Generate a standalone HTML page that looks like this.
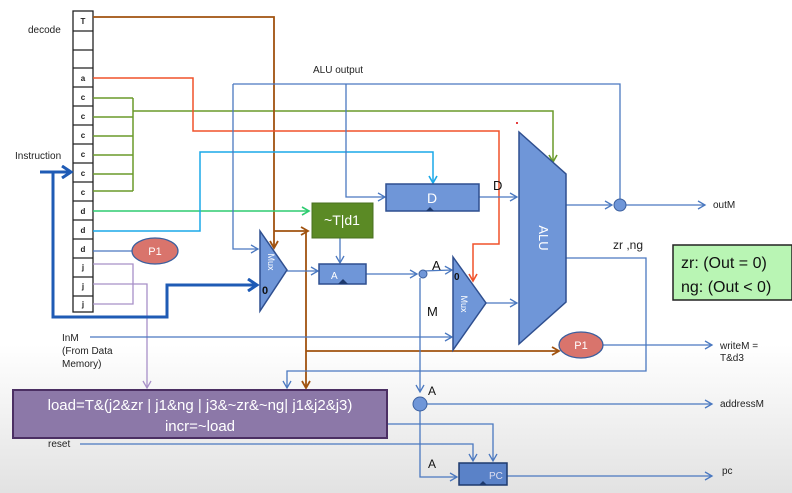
<!DOCTYPE html>
<html><head><meta charset="utf-8"><style>
html,body{margin:0;padding:0;}
body{width:792px;height:493px;overflow:hidden;background:linear-gradient(#ffffff 0%,#ffffff 70%,#e2e2e2 100%);font-family:"Liberation Sans",sans-serif;}
svg{display:block}
</style></head><body>
<svg width="792" height="493" viewBox="0 0 792 493" xmlns="http://www.w3.org/2000/svg" font-family="Liberation Sans, sans-serif">
<defs>
<marker id="ab" markerWidth="10" markerHeight="10" refX="8" refY="5" orient="auto" markerUnits="userSpaceOnUse"><path d="M1,1 L8,5 L1,9" fill="none" stroke="#4a78c0" stroke-width="1.3"/></marker>
<marker id="abr" markerWidth="10" markerHeight="10" refX="8" refY="5" orient="auto" markerUnits="userSpaceOnUse"><path d="M1,1 L8,5 L1,9" fill="none" stroke="#a0520f" stroke-width="1.8"/></marker>
<marker id="ared" markerWidth="10" markerHeight="10" refX="8" refY="5" orient="auto" markerUnits="userSpaceOnUse"><path d="M1,1 L8,5 L1,9" fill="none" stroke="#f0522a" stroke-width="1.6"/></marker>
<marker id="agr" markerWidth="10" markerHeight="10" refX="8" refY="5" orient="auto" markerUnits="userSpaceOnUse"><path d="M1,1 L8,5 L1,9" fill="none" stroke="#6a9a2a" stroke-width="1.6"/></marker>
<marker id="alg" markerWidth="10" markerHeight="10" refX="8" refY="5" orient="auto" markerUnits="userSpaceOnUse"><path d="M1,1 L8,5 L1,9" fill="none" stroke="#2ecc71" stroke-width="1.6"/></marker>
<marker id="acy" markerWidth="10" markerHeight="10" refX="8" refY="5" orient="auto" markerUnits="userSpaceOnUse"><path d="M1,1 L8,5 L1,9" fill="none" stroke="#1aa8e8" stroke-width="1.6"/></marker>
<marker id="apu" markerWidth="10" markerHeight="10" refX="8" refY="5" orient="auto" markerUnits="userSpaceOnUse"><path d="M1,1 L8,5 L1,9" fill="none" stroke="#a890c8" stroke-width="1.3"/></marker>
<marker id="athick" markerWidth="14" markerHeight="14" refX="11" refY="7" orient="auto" markerUnits="userSpaceOnUse"><path d="M2,1 L11,7 L2,13" fill="none" stroke="#1f5bb5" stroke-width="3"/></marker>
</defs>

<!-- decode column -->
<g fill="#fff" stroke="#222" stroke-width="1.3">
<rect x="73" y="11" width="20" height="301"/>
</g>
<g stroke="#222" stroke-width="1.3">
<line x1="73" y1="31" x2="93" y2="31"/><line x1="73" y1="50" x2="93" y2="50"/><line x1="73" y1="68" x2="93" y2="68"/>
<line x1="73" y1="87" x2="93" y2="87"/><line x1="73" y1="106" x2="93" y2="106"/><line x1="73" y1="125" x2="93" y2="125"/>
<line x1="73" y1="144" x2="93" y2="144"/><line x1="73" y1="163" x2="93" y2="163"/><line x1="73" y1="182" x2="93" y2="182"/>
<line x1="73" y1="201" x2="93" y2="201"/><line x1="73" y1="220" x2="93" y2="220"/><line x1="73" y1="239" x2="93" y2="239"/>
<line x1="73" y1="258" x2="93" y2="258"/><line x1="73" y1="277" x2="93" y2="277"/><line x1="73" y1="296" x2="93" y2="296"/>
</g>
<g font-size="8" font-weight="bold" text-anchor="middle" fill="#222">
<text x="83" y="24">T</text><text x="83" y="81">a</text>
<text x="83" y="100">c</text><text x="83" y="119">c</text><text x="83" y="138">c</text><text x="83" y="157">c</text><text x="83" y="176">c</text><text x="83" y="195">c</text>
<text x="83" y="214">d</text><text x="83" y="233">d</text><text x="83" y="252">d</text>
<text x="83" y="270">j</text><text x="83" y="289">j</text><text x="83" y="307">j</text>
</g>
<g font-size="10" fill="#222">
<text x="28" y="33">decode</text>
<text x="15" y="159">Instruction</text>
<text x="313" y="73">ALU output</text>
<text x="62" y="341">InM</text><text x="62" y="354">(From Data</text><text x="62" y="367">Memory)</text>
<text x="48" y="447">reset</text>
<text x="713" y="208">outM</text>
<text x="720" y="349">writeM =</text><text x="720" y="361">T&amp;d3</text>
<text x="720" y="407">addressM</text>
<text x="722" y="474">pc</text>
</g>
<text x="613" y="249" font-size="12" fill="#222">zr ,ng</text>

<!-- green c lines -->
<g fill="none" stroke="#6a9a2a" stroke-width="1.5">
<path d="M93,98H133M93,117H133M93,136H133M93,155H133M93,174H133M93,191H133M133,98V191"/>
<path d="M133,111H553V162" marker-end="url(#agr)"/>
</g>
<!-- T brown -->
<g fill="none" stroke="#a0520f" stroke-width="1.8">
<path d="M93,17H274V248" marker-end="url(#abr)"/>
<path d="M274,231H308" marker-end="url(#abr)"/>
<path d="M306,231V388" marker-end="url(#abr)"/>
<path d="M306,351H559" marker-end="url(#abr)"/>
</g>
<!-- a red -->
<path d="M93,78H193V131H499V244H473V281" fill="none" stroke="#f0522a" stroke-width="1.5" marker-end="url(#ared)"/>
<!-- d lines -->
<path d="M93,211H309" fill="none" stroke="#2ecc71" stroke-width="1.5" marker-end="url(#alg)"/>
<path d="M93,231H200V152H433V183" fill="none" stroke="#1aa8e8" stroke-width="1.5" marker-end="url(#acy)"/>
<path d="M93,251H133" stroke="#4a78c0" stroke-width="1.3"/>
<!-- j purple -->
<g fill="none" stroke="#a890c8" stroke-width="1.3">
<path d="M93,264H133V304H93"/>
<path d="M93,284H147V388" marker-end="url(#apu)"/>
</g>
<!-- Instruction thick -->
<g fill="none" stroke="#1f5bb5" stroke-width="3">
<path d="M40,172H71" marker-end="url(#athick)"/>
<path d="M53,172V317H167V285H257" marker-end="url(#athick)"/>
</g>

<!-- blue wires -->
<g fill="none" stroke="#4a78c0" stroke-width="1.3">
<path d="M233,84H620V199"/>
<path d="M233,84V249H258" marker-end="url(#ab)"/>
<path d="M346,84V197H385" marker-end="url(#ab)"/>
<path d="M287,271H318" marker-end="url(#ab)"/>
<path d="M340,238V263" marker-end="url(#ab)"/>
<path d="M366,274H417" marker-end="url(#ab)"/>
<path d="M423,271L452,270" marker-end="url(#ab)"/>
<path d="M420,278V392" marker-end="url(#ab)"/>
<path d="M420,411V477H457" marker-end="url(#ab)"/>
<path d="M90,337H452" marker-end="url(#ab)"/>
<path d="M479,197H517" marker-end="url(#ab)"/>
<path d="M486,303H517" marker-end="url(#ab)"/>
<path d="M566,205H612" marker-end="url(#ab)"/>
<path d="M626,205H705" marker-end="url(#ab)"/>
<path d="M566,258H646V371H287V388" marker-end="url(#ab)"/>
<path d="M602,345H712" marker-end="url(#ab)"/>
<path d="M427,404H712" marker-end="url(#ab)"/>
<path d="M387,424H493V461" marker-end="url(#ab)"/>
<path d="M80,444H473V461" marker-end="url(#ab)"/>
<path d="M507,476H712" marker-end="url(#ab)"/>
</g>

<!-- P1 ellipses -->
<ellipse cx="155" cy="251" rx="23" ry="13" fill="#d9746c" stroke="#3b5f9e" stroke-width="1.3"/>
<text x="155" y="255" font-size="11" fill="#fff" text-anchor="middle">P1</text>
<ellipse cx="581" cy="345" rx="22" ry="13" fill="#d9746c" stroke="#3b5f9e" stroke-width="1.3"/>
<text x="581" y="349" font-size="11" fill="#fff" text-anchor="middle">P1</text>

<!-- ~T|d1 -->
<rect x="312" y="203" width="61" height="35" fill="#5b8a25" stroke="#4a7020"/>
<text x="342" y="225" font-size="14" fill="#fff" text-anchor="middle">~T|d1</text>

<!-- Mux1 -->
<polygon points="260,231 287,270 260,311" fill="#6f96d8" stroke="#2f4f8f" stroke-width="1.5"/>
<text transform="translate(268,262) rotate(90)" font-size="9" fill="#fff" text-anchor="middle">Mux</text>
<text x="262" y="294" font-size="11" font-weight="bold" fill="#111">0</text>
<!-- A reg -->
<rect x="319" y="264" width="47" height="20" fill="#6f96d8" stroke="#2f4f8f" stroke-width="1.5"/>
<text x="331" y="279" font-size="10" fill="#fff">A</text>
<polygon points="338,284 343,279 348,284" fill="#1e3a6e"/>
<!-- D reg -->
<rect x="386" y="184" width="93" height="27" fill="#6f96d8" stroke="#2f4f8f" stroke-width="1.5"/>
<text x="432" y="203" font-size="14" fill="#fff" text-anchor="middle">D</text>
<polygon points="426,211 430,207 434,211" fill="#1e3a6e"/>
<text x="493" y="190" font-size="13" fill="#111">D</text>
<!-- junction A -->
<circle cx="423" cy="274" r="4" fill="#6f96d8" stroke="#3b5f9e"/>
<text x="432" y="270" font-size="13" fill="#111">A</text>
<text x="427" y="316" font-size="13" fill="#111">M</text>
<!-- Mux2 -->
<polygon points="453,257 486,303 453,350" fill="#6f96d8" stroke="#2f4f8f" stroke-width="1.5"/>
<text transform="translate(461,304) rotate(90)" font-size="9" fill="#fff" text-anchor="middle">Mux</text>
<text x="454" y="280" font-size="10" font-weight="bold" fill="#111">0</text>
<!-- ALU -->
<polygon points="519,132 566,174 566,302 519,344" fill="#6f96d8" stroke="#2f4f8f" stroke-width="1.5"/>
<text transform="translate(539,238) rotate(90)" font-size="13" fill="#fff" text-anchor="middle">ALU</text>
<circle cx="517" cy="123" r="1" fill="#d00"/>
<!-- outM junction -->
<circle cx="620" cy="205" r="6" fill="#6f96d8" stroke="#3b5f9e"/>
<!-- zr ng box -->
<rect x="673" y="245" width="119" height="55" fill="#b9f5b4" stroke="#222" stroke-width="1.5"/>
<text x="681" y="268" font-size="16" fill="#111">zr: (Out = 0)</text>
<text x="681" y="292" font-size="16" fill="#111">ng: (Out &lt; 0)</text>
<!-- load box -->
<rect x="13" y="390" width="374" height="48" fill="#8c78a8" stroke="#4b2f63" stroke-width="2"/>
<text x="200" y="410" font-size="15" fill="#fff" text-anchor="middle">load=T&amp;(j2&amp;zr | j1&amp;ng | j3&amp;~zr&amp;~ng| j1&amp;j2&amp;j3)</text>
<text x="200" y="431" font-size="15" fill="#fff" text-anchor="middle">incr=~load</text>
<!-- addressM junction -->
<circle cx="420" cy="404" r="7" fill="#6f96d8" stroke="#3b5f9e"/>
<text x="428" y="395" font-size="12" fill="#111">A</text>
<text x="428" y="468" font-size="12" fill="#111">A</text>
<!-- PC -->
<rect x="459" y="463" width="48" height="22" fill="#5a82c8" stroke="#1e3a6e" stroke-width="1.5"/>
<text x="489" y="479" font-size="10" fill="#dde" >PC</text>
<polygon points="479,485 483,481 487,485" fill="#1e3a6e"/>
</svg>
</body></html>
